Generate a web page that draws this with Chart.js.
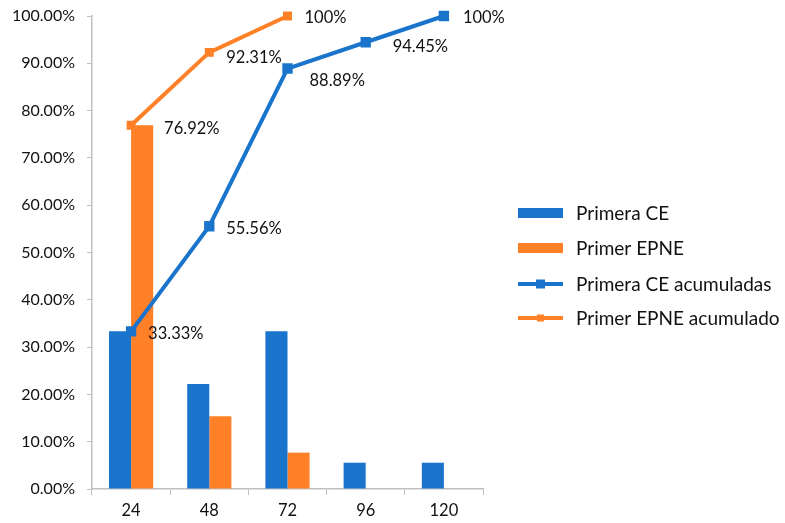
<!DOCTYPE html>
<html>
<head>
<meta charset="utf-8">
<script src="https://cdn.jsdelivr.net/npm/chart.js@4"></script>
<style>
    html, body { margin: 0; padding: 0; background: #fff; }
    #wrap { width: 785px; height: 523px; }
</style>
</head>
<body>
<div id="wrap"><canvas id="chart" width="785" height="523"></canvas></div>
<script>
const horas = ['24', '48', '72', '96', '120'];
const primeraCE = [33.33, 22.22, 33.33, 5.56, 5.56];
const primerEPNE = [76.92, 15.38, 7.69, 0, 0];
const primeraCEAcum = [33.33, 55.56, 88.89, 94.45, 100];
const primerEPNEAcum = [76.92, 92.31, 100, null, null];

const BLUE = '#1B74CC';
const ORANGE = '#FF8027';
const TEXT = '#111';
const FONT = 'Lato, "Open Sans", sans-serif';

// text next to each point of the cumulative lines
function pctLabel(v) {
    return v === 100 ? '100%' : v.toFixed(2) + '%';
}

const pointLabels = {
    id: 'pointLabels',
    afterDatasetsDraw(chart) {
        const ctx = chart.ctx;
        ctx.save();
        ctx.font = '16.5px ' + FONT;
        ctx.fillStyle = TEXT;
        ctx.textBaseline = 'middle';
        ctx.textAlign = 'left';
        chart.data.datasets.forEach((ds, i) => {
            if (ds.type !== 'line') return;
            const meta = chart.getDatasetMeta(i);
            meta.data.forEach((pt, j) => {
                const v = ds.data[j];
                if (v === null || v === undefined) return;
                const nudge = (ds.labelNudge && ds.labelNudge[j]) || [0, 0];
                ctx.fillText(pctLabel(v), pt.x + 17 + nudge[0], pt.y + 2 + nudge[1]);
            });
        });
        ctx.restore();
    }
};

// legend on the right: wide bars for the columns, line + marker for the lines
const sideLegend = {
    id: 'sideLegend',
    afterDraw(chart) {
        const ctx = chart.ctx;
        const x0 = 518, sw = 45, tx = 576;
        const rows = [213, 248, 284, 318];
        ctx.save();
        ctx.font = '19px ' + FONT;
        ctx.textBaseline = 'middle';
        chart.data.datasets.forEach((ds, i) => {
            const y = rows[i];
            if (ds.type === 'bar') {
                ctx.fillStyle = ds.backgroundColor;
                ctx.fillRect(x0, y - 5, sw, 10);
            } else {
                ctx.strokeStyle = ds.borderColor;
                ctx.lineWidth = 4;
                ctx.beginPath();
                ctx.moveTo(x0, y);
                ctx.lineTo(x0 + sw, y);
                ctx.stroke();
                const r = ds.pointRadius;
                ctx.fillStyle = ds.borderColor;
                ctx.fillRect(x0 + sw / 2 - r, y - r, r * 2, r * 2);
            }
            ctx.fillStyle = TEXT;
            ctx.fillText(ds.label, tx, y + 1);
        });
        ctx.restore();
    }
};

new Chart(document.getElementById('chart'), {
    data: {
        labels: horas,
        datasets: [
            {
                type: 'bar',
                label: 'Primera CE',
                data: primeraCE,
                backgroundColor: BLUE,
                order: 2
            },
            {
                type: 'bar',
                label: 'Primer EPNE',
                data: primerEPNE,
                backgroundColor: ORANGE,
                order: 2
            },
            {
                type: 'line',
                label: 'Primera CE acumuladas',
                data: primeraCEAcum,
                borderColor: BLUE,
                backgroundColor: BLUE,
                borderWidth: 4,
                pointStyle: 'rect',
                pointRadius: 4.5,
                pointHoverRadius: 4.5,
                tension: 0,
                clip: false,
                order: 1,
                labelNudge: [[0, 0], [0, 0], [5, 10], [10, 2], [2, 0]]
            },
            {
                type: 'line',
                label: 'Primer EPNE acumulado',
                data: primerEPNEAcum,
                borderColor: ORANGE,
                backgroundColor: ORANGE,
                borderWidth: 4,
                pointStyle: 'rect',
                pointRadius: 3.5,
                pointHoverRadius: 3.5,
                tension: 0,
                spanGaps: false,
                clip: false,
                order: 0,
                labelNudge: [[16, 2], [0, 3], [0, 0]]
            }
        ]
    },
    options: {
        responsive: false,
        animation: false,
        layout: { padding: { top: 16, right: 302, bottom: 0, left: 0 } },
        plugins: {
            legend: { display: false },
            tooltip: { enabled: false }
        },
        datasets: {
            bar: { categoryPercentage: 0.565, barPercentage: 1 }
        },
        scales: {
            x: {
                offset: true,
                grid: {
                    offset: true,
                    drawOnChartArea: false,
                    drawTicks: true,
                    tickLength: 6,
                    color: '#BFBFBF'
                },
                border: { color: '#BFBFBF', width: 1.5 },
                ticks: {
                    color: TEXT,
                    font: { family: FONT, size: 16.5 },
                    padding: 6
                },
                afterFit(axis) { axis.height = 34; }
            },
            y: {
                min: 0,
                max: 100,
                grid: {
                    drawOnChartArea: false,
                    drawTicks: true,
                    tickLength: 5,
                    color: '#BFBFBF'
                },
                border: { color: '#BFBFBF', width: 1.5 },
                ticks: {
                    stepSize: 10,
                    color: TEXT,
                    font: { family: FONT, size: 16 },
                    padding: 12,
                    callback: v => v.toFixed(2) + '%'
                },
                afterFit(axis) {
                    axis.width = 92;
                    axis.paddingTop = 0;
                    axis.paddingBottom = 0;
                }
            }
        }
    },
    plugins: [pointLabels, sideLegend]
});
</script>
</body>
</html>
